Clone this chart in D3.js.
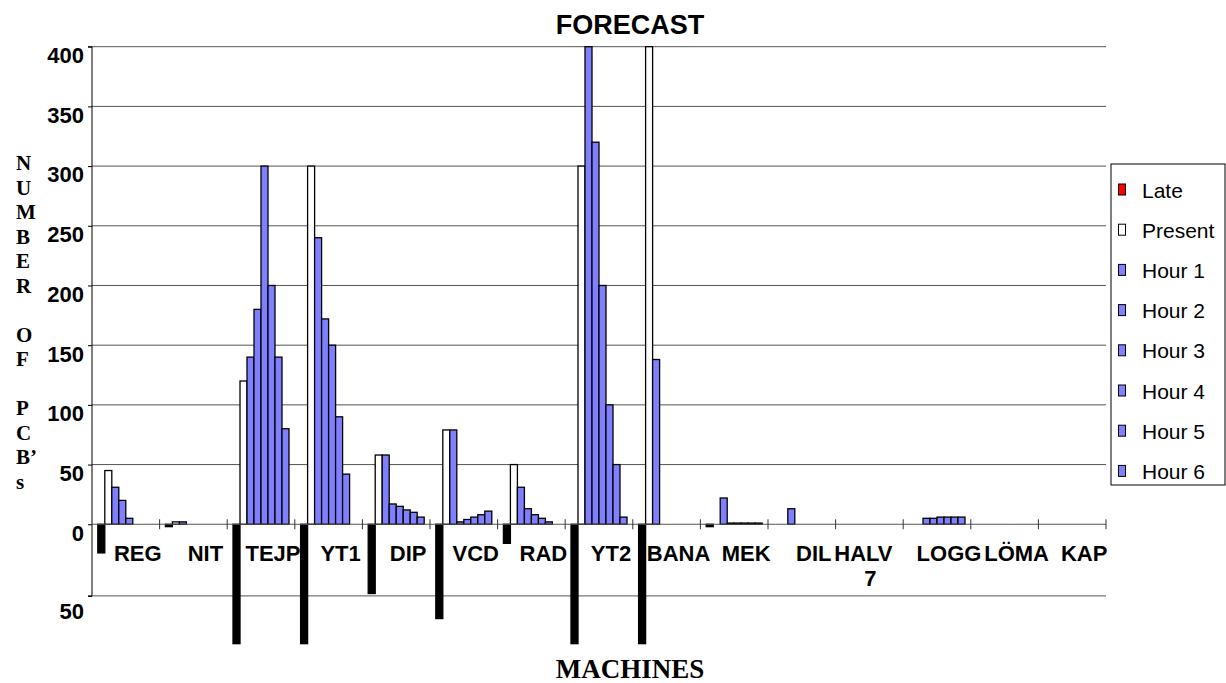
<!DOCTYPE html>
<html><head><meta charset="utf-8">
<script src="https://cdn.jsdelivr.net/npm/d3@7"></script>
<style>html,body{margin:0;padding:0;background:#fff;}svg{display:block;}</style>
</head><body>
<svg id="chart" width="1226" height="683"></svg>
<script>
const categories = ["REG","NIT","TEJP","YT1","DIP","VCD","RAD","YT2","BANA","MEK","DIL","HALV 7","LOGG","LÖMA","KAP"];
const seriesNames = ["Late","Present","Hour 1","Hour 2","Hour 3","Hour 4","Hour 5","Hour 6"];
const late    = [-24, -2, -100, -100, -58, -79, -16, -100, -100, -2, 0, 0, 0, 0, 0];
const present = [45, 2, 120, 300, 58, 79, 50, 300, 400, 0, 0, 0, 0, 0, 0];
const hour1   = [31, 2, 140, 240, 58, 79, 31, 400, 138, 22, 13, 0, 5, 0, 0];
const hour2   = [20, 0, 180, 172, 17, 2, 13, 320, 0, 1, 0, 0, 5, 0, 0];
const hour3   = [5, 0, 300, 150, 15, 4, 8, 200, 0, 1, 0, 0, 6, 0, 0];
const hour4   = [0, 0, 200, 90, 12, 6, 5, 100, 0, 1, 0, 0, 6, 0, 0];
const hour5   = [0, 0, 140, 42, 10, 8, 2, 50, 0, 1, 0, 0, 6, 0, 0];
const hour6   = [0, 0, 80, 0, 6, 11, 0, 6, 0, 1, 0, 0, 6, 0, 0];
const yTickValues = [-60, 0, 50, 100, 150, 200, 250, 300, 350, 400];
const yTickLabels = ["50", "0", "50", "100", "150", "200", "250", "300", "350", "400"];
const yTitleLetters = ["N","U","M","B","E","R","","O","F","","P","C","B\u2019","s"];
const titleText = "FORECAST";
const xTitleText = "MACHINES";

const seriesValues = [late, present, hour1, hour2, hour3, hour4, hour5, hour6];
const seriesFill = ["#000000", "#ffffff", "#8080ff", "#8080ff", "#8080ff", "#8080ff", "#8080ff", "#8080ff"];
const legendFill = ["#ff0000", "#ffffff", "#8080ff", "#8080ff", "#8080ff", "#8080ff", "#8080ff", "#8080ff"];

const svg = d3.select("#chart");
const pLeft = 92, pRight = 1106, pTop = 46.7, pBottom = 595.9;

const x0 = d3.scaleBand().domain(categories).range([pLeft, pRight]).paddingInner(0).paddingOuter(0);
const x1 = d3.scaleBand().domain(seriesNames).range([0, x0.bandwidth()]).paddingInner(0).paddingOuter(0.83);
const y = d3.scaleLinear().domain([-60, 400]).range([pBottom, pTop]);

// gridlines
svg.append("g").selectAll("line").data(yTickValues.filter(v => v !== 0)).join("line")
  .attr("x1", pLeft).attr("x2", pRight)
  .attr("y1", d => y(d)).attr("y2", d => y(d))
  .attr("stroke", "#555").attr("stroke-width", 1);

// y axis
const yAxis = d3.axisLeft(y).tickValues(yTickValues).tickSize(4)
  .tickFormat((d, i) => yTickLabels[i]);
const gy = svg.append("g").attr("transform", `translate(${pLeft},0)`).call(yAxis);
gy.select(".domain").attr("stroke", "#000").attr("d", `M-4,${y(400)}H0V${y(-60)}H-4`);
gy.selectAll(".tick line").attr("stroke", "#000");
gy.selectAll(".tick text")
  .attr("font-family", "Liberation Sans, Arial, sans-serif")
  .attr("font-weight", "bold").attr("font-size", 22).attr("fill", "#000")
  .attr("x", -8).attr("dy", "0.72em");
gy.selectAll(".tick").filter(d => d === -60).select("text").attr("dy", "1.05em");

// bars
const barData = [];
categories.forEach((c, ci) => {
  seriesNames.forEach((s, si) => {
    const v = seriesValues[si][ci];
    if (v !== 0) barData.push({c, s, si, v});
  });
});
svg.append("g").selectAll("rect").data(barData).join("rect")
  .attr("x", d => x0(d.c) + x1(d.s))
  .attr("width", x1.bandwidth())
  .attr("y", d => d.v >= 0 ? y(d.v) : y(0))
  .attr("height", d => Math.abs(y(d.v) - y(0)))
  .attr("fill", d => seriesFill[d.si])
  .attr("stroke", "#000").attr("stroke-width", 1.3);

// x axis at zero
const xAxisG = svg.append("g");
xAxisG.append("line").attr("x1", pLeft).attr("x2", pRight).attr("y1", y(0)).attr("y2", y(0))
  .attr("stroke", "#555").attr("stroke-width", 1);
const boundaries = categories.map(c => x0(c)).concat([pRight]);
xAxisG.selectAll("line.tk").data(boundaries.slice(1)).join("line").attr("class", "tk")
  .attr("x1", d => d).attr("x2", d => d)
  .attr("y1", y(0) - 5).attr("y2", y(0) + 5)
  .attr("stroke", "#333").attr("stroke-width", 1);

// category labels
const catText = xAxisG.selectAll("text").data(categories).join("text")
  .attr("font-family", "Liberation Sans, Arial, sans-serif")
  .attr("font-weight", "bold").attr("font-size", 22).attr("fill", "#000")
  .attr("text-anchor", "middle");
catText.each(function(d) {
  const parts = d.split(" ");
  const cx = x0(d) + x0.bandwidth() / 2 + 12;
  const t = d3.select(this);
  if (parts.length > 1 && d.length > 5) {
    t.remove();
    parts.forEach((p, i) => {
      xAxisG.append("text")
        .attr("font-family", "Liberation Sans, Arial, sans-serif")
        .attr("font-weight", "bold").attr("font-size", 22).attr("fill", "#000")
        .attr("text-anchor", "middle")
        .attr("x", cx - (i === 0 ? 18 : 11)).attr("y", y(0) + 37 + i * 25).text(p);
    });
  } else {
    t.attr("x", cx).attr("y", y(0) + 37).text(d);
  }
});

// title
svg.append("text").attr("x", 630).attr("y", 34).attr("text-anchor", "middle")
  .attr("font-family", "Liberation Sans, Arial, sans-serif")
  .attr("font-weight", "bold").attr("font-size", 27).text(titleText);

// x title
svg.append("text").attr("x", 630).attr("y", 678).attr("text-anchor", "middle")
  .attr("font-family", "Liberation Serif, Times New Roman, serif")
  .attr("font-weight", "bold").attr("font-size", 27).text(xTitleText);

// y title, stacked letters
const yt = svg.append("text").attr("font-family", "Liberation Serif, Times New Roman, serif")
  .attr("font-weight", "bold").attr("font-size", 21).attr("fill", "#000");
yTitleLetters.forEach((l, i) => {
  yt.append("tspan").attr("x", 16).attr("y", 170 + i * 24.5).text(l);
});

// legend
const lg = svg.append("g");
lg.append("rect").attr("x", 1111).attr("y", 164).attr("width", 114).attr("height", 321)
  .attr("fill", "#fff").attr("stroke", "#000").attr("stroke-width", 1);
const items = lg.selectAll("g.it").data(seriesNames).join("g").attr("class", "it")
  .attr("transform", (d, i) => `translate(0,${190 + i * 40.2})`);
items.append("rect").attr("x", 1118.5).attr("y", -6).attr("width", 7).attr("height", 11)
  .attr("fill", (d, i) => legendFill[i]).attr("stroke", "#000").attr("stroke-width", 1);
items.append("text").attr("x", 1142).attr("y", 0).attr("dy", "0.36em")
  .attr("font-family", "Liberation Sans, Arial, sans-serif").attr("font-size", 21)
  .text(d => d);
</script>
</body></html>
